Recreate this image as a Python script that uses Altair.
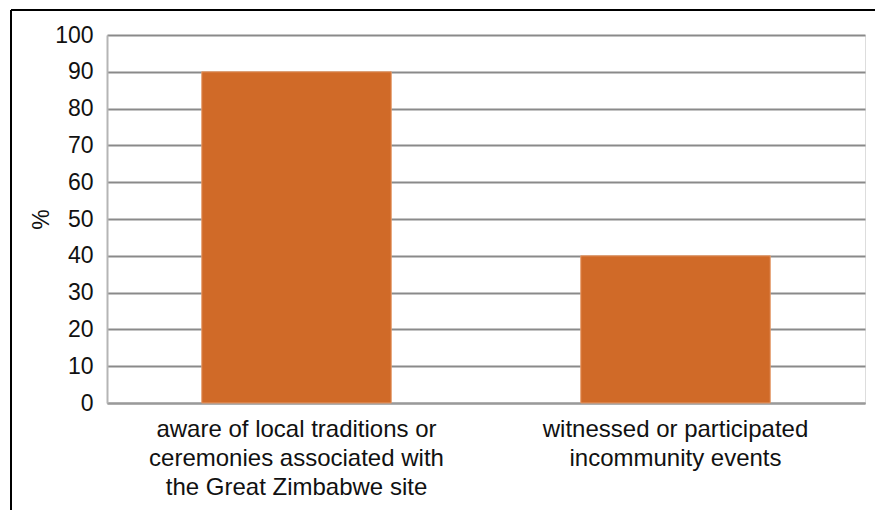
import altair as alt
import pandas as pd

categories = [
    "aware of local traditions or|ceremonies associated with|the Great Zimbabwe site",
    "witnessed or participated|incommunity events",
]
values = [90, 40]
y_ticks = [0, 10, 20, 30, 40, 50, 60, 70, 80, 90, 100]

df = pd.DataFrame({"category": categories, "value": values})

FONT = "Liberation Sans"
W, H = 758, 368

bars = alt.Chart(df).mark_bar(color="#D06A28", stroke="#E59A6A", strokeWidth=1).encode(
    x=alt.X(
        "category:N",
        sort=categories,
        title=None,
        scale=alt.Scale(paddingInner=0.5, paddingOuter=0.25),
        axis=alt.Axis(
            labelAngle=0,
            labelExpr="split(datum.label, '|')",
            labelFont=FONT,
            labelFontSize=24,
            labelColor="#111111",
            labelLineHeight=29,
            labelPadding=14,
            ticks=False,
            domainColor="#9a9a9a",
            domainWidth=2,
            labelLimit=500,
        ),
    ),
    y=alt.Y(
        "value:Q",
        title="%",
        scale=alt.Scale(domain=[0, 100], nice=False),
        axis=alt.Axis(
            values=y_ticks,
            labelFont=FONT,
            labelFontSize=23,
            labelColor="#111111",
            labelPadding=14,
            ticks=False,
            domainColor="#b5b5b5",
            domainWidth=2,
            gridColor="#8a8a8a",
            gridWidth=2,
            titleFont=FONT,
            titleFontSize=23,
            titleFontWeight="normal",
            titleColor="#111111",
            titlePadding=1,
        ),
    ),
)

frame_top = alt.Chart(df).mark_rule(color="#000000", strokeWidth=2).encode(
    x=alt.value(-96), x2=alt.value(W + 30), y=alt.value(-25)
)
frame_left = alt.Chart(df).mark_rule(color="#000000", strokeWidth=2).encode(
    x=alt.value(-96), y=alt.value(-25), y2=alt.value(H + 130)
)

chart = (
    alt.layer(bars, frame_top, frame_left)
    .properties(
        width=W,
        height=H,
        autosize=alt.AutoSizeParams(type="none"),
        padding={"left": 99, "top": 27, "right": 10, "bottom": 130},
    )
    .configure_view(stroke="#c8c8c8", strokeWidth=2)
    .configure(background="white")
)

chart.save("out.html", embed_options={"renderer": "svg", "actions": False})
